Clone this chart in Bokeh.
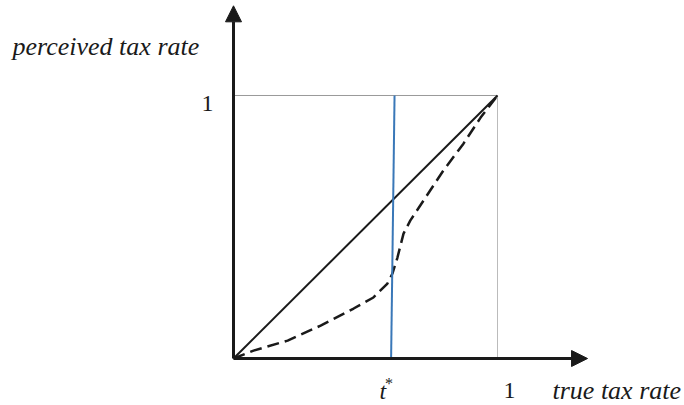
from bokeh.plotting import figure
from bokeh.models import Arrow, NormalHead, Range1d
from bokeh.core.properties import value
from bokeh.embed import file_html
from bokeh.resources import INLINE

# data
diag_x = [0.0, 1.0]
diag_y = [0.0, 1.0]
curve_x = [0.0, 0.076, 0.205, 0.330, 0.455, 0.530, 0.583, 0.602, 0.621, 0.644, 0.670, 0.720, 0.795, 0.871, 0.936, 1.0]
curve_y = [0.0, 0.030, 0.068, 0.125, 0.190, 0.232, 0.285, 0.323, 0.384, 0.475, 0.525, 0.601, 0.715, 0.817, 0.916, 1.0]
tstar_x = [0.597, 0.610]
tstar_y = [0.0, 1.0]
axis_max = 1.341
x_label = "true tax rate"
y_label = "perceived tax rate"
tick_label = "1"

W, H = 684, 405
p = figure(width=W, height=H, output_backend="svg", toolbar_location=None,
           x_range=Range1d(-0.8826, 1.7083), y_range=Range1d(-0.1787, 1.3612),
           min_border=0)
p.axis.visible = False
p.grid.visible = False
p.outline_line_color = None
p.background_fill_color = "white"

# guide lines
p.line([0, 1], [1, 1], line_color="#333333", line_width=1, line_dash="1 1")
p.line([1, 1], [0, 1], line_color="#777777", line_width=1, line_dash="1 1")

# curves
p.line(diag_x, diag_y, line_color="#1a1a1a", line_width=2)
p.line(curve_x, curve_y, line_color="#1a1a1a", line_width=2.5, line_dash="12 6")
p.line(tstar_x, tstar_y, line_color="#3a78b8", line_width=2)

# axes with arrows
p.add_layout(Arrow(end=NormalHead(size=16, fill_color="#1a1a1a", line_color="#1a1a1a"),
                   x_start=0, y_start=0, x_end=axis_max, y_end=0,
                   line_width=3, line_color="#1a1a1a"))
p.add_layout(Arrow(end=NormalHead(size=16, fill_color="#1a1a1a", line_color="#1a1a1a"),
                   x_start=0, y_start=0, x_end=0, y_end=axis_max,
                   line_width=3, line_color="#1a1a1a"))

serif = value("Liberation Serif")
# axis titles
p.text(x=[-0.837], y=[1.186], text=[y_label], text_font=serif, text_font_style="italic",
       text_font_size=value("26px"), text_align="left", text_baseline="alphabetic", text_color="#1a1a1a")
p.text(x=[1.0], y=[0.0], text=[x_label], text_font=serif, text_font_style="italic",
       text_font_size=value("26px"), text_align="left", text_baseline="alphabetic",
       x_offset=55, y_offset=32, text_color="#1a1a1a")
# ticks
p.text(x=[0.0], y=[1.0], text=[tick_label], text_font=serif, text_font_size=value("24px"),
       text_align="right", text_baseline="alphabetic", x_offset=-20, y_offset=8, text_color="#1a1a1a")
p.text(x=[1.0], y=[0.0], text=[tick_label], text_font=serif, text_font_size=value("24px"),
       text_align="center", text_baseline="alphabetic", x_offset=12, y_offset=32, text_color="#1a1a1a")
p.text(x=[tstar_x[0]], y=[0.0], text=["t"], text_font=serif, text_font_style="italic",
       text_font_size=value("24px"), text_align="right", text_baseline="alphabetic",
       x_offset=-5, y_offset=32, text_color="#1a1a1a")
p.text(x=[tstar_x[0]], y=[0.0], text=["*"], text_font=serif,
       text_font_size=value("16px"), text_align="center", text_baseline="alphabetic",
       x_offset=-2, y_offset=25, text_color="#1a1a1a")

open("out.html", "w").write(file_html(p, INLINE))
